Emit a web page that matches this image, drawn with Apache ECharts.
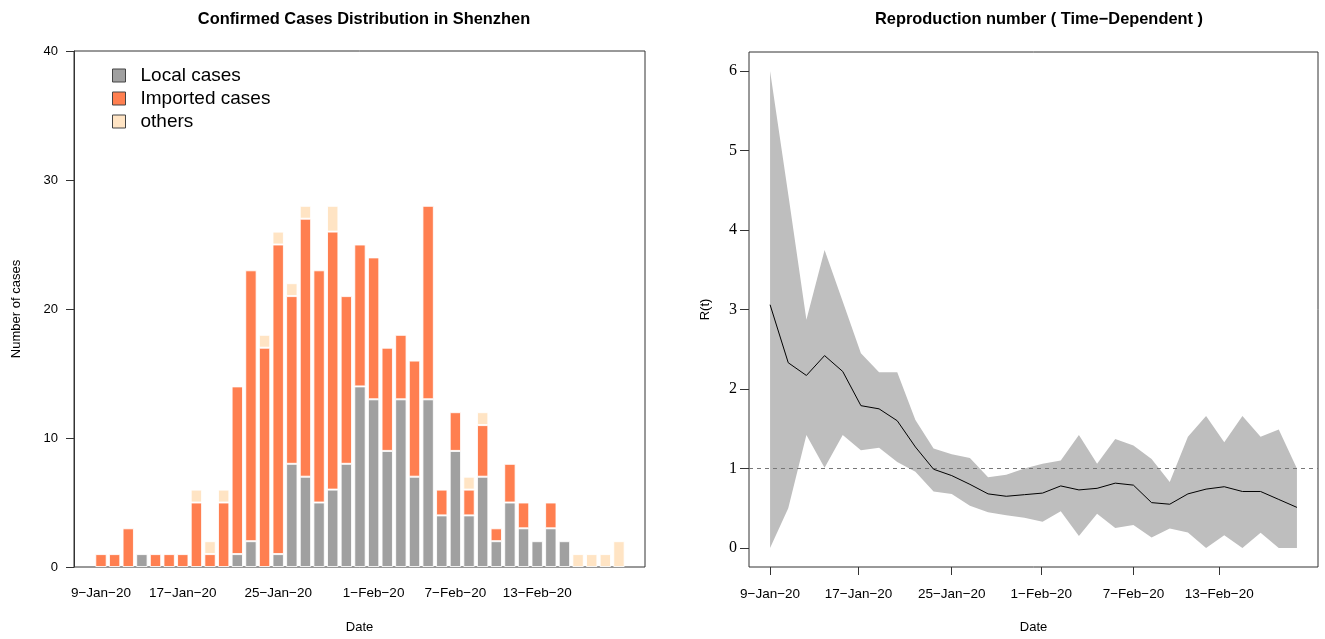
<!DOCTYPE html>
<html>
<head>
<meta charset="utf-8">
<script src="https://cdn.jsdelivr.net/npm/echarts@6/dist/echarts.min.js"></script>
<style>html,body{margin:0;padding:0;background:#fff;}#c{width:1325px;height:639px;}</style>
</head>
<body>
<div id="c"></div>
<script>
// ---- Left chart: confirmed cases (bar index = day position) ----
const localCases    = [0,0,0,1,0,0,0,0,0,0,1,2,0,1,8,7,5,6,8,14,13,9,13,7,13,4,9,4,7,2,5,3,2,3,2,0,0,0,0];
const importedCases = [1,1,3,0,1,1,1,5,1,5,13,21,17,24,13,20,18,20,13,11,11,8,5,9,15,2,3,2,4,1,3,2,0,2,0,0,0,0,0];
const otherCases    = [0,0,0,0,0,0,0,1,1,1,0,0,1,1,1,1,0,2,0,0,0,0,0,0,0,0,0,1,1,0,0,0,0,0,0,1,1,1,2];
const leftTickPos    = [0,6,13,20,26,32];
const leftTickLabels = ['9\u2212Jan\u221220','17\u2212Jan\u221220','25\u2212Jan\u221220','1\u2212Feb\u221220','7\u2212Feb\u221220','13\u2212Feb\u221220'];

// ---- Right chart: R(t) ----
const rtMean  = [3.06,2.33,2.17,2.42,2.22,1.79,1.75,1.60,1.27,0.99,0.91,0.80,0.68,0.65,0.67,0.69,0.78,0.73,0.75,0.815,0.79,0.57,0.55,0.68,0.74,0.77,0.71,0.71,0.61,0.51];
const rtLower = [0,0.50,1.42,1.01,1.42,1.23,1.26,1.08,0.96,0.71,0.68,0.53,0.45,0.41,0.38,0.33,0.46,0.15,0.43,0.25,0.29,0.13,0.245,0.195,0,0.16,0,0.19,0,0];
const rtUpper = [6.0,4.45,2.87,3.75,3.10,2.45,2.21,2.21,1.61,1.25,1.18,1.13,0.89,0.92,1.0,1.06,1.10,1.42,1.06,1.37,1.29,1.12,0.83,1.40,1.66,1.33,1.66,1.40,1.49,1.0];
const rightTickPos    = [0,4.87,10,14.93,20,24.72];
const rightTickLabels = leftTickLabels;
const rightYTicks = [0,1,2,3,4,5,6];

const SANS = 'Liberation Sans, Arial, sans-serif';
const SERIF = 'Liberation Serif, Times New Roman, serif';

// data rows are [value, position] so that stacking happens on the value (y) dimension
function rows(arr, keepZero){ return arr.map((v,i)=>[(v === 0 && !keepZero) ? null : v, i]); }
const ENC = {x:1, y:0};
function labelFor(pos, labels){
  return function(v){
    let best = 0, d = Infinity;
    pos.forEach((p,i)=>{ if (Math.abs(p-v) < d){ d = Math.abs(p-v); best = i; } });
    return d < 0.01 ? labels[best] : '';
  };
}

const chart = echarts.init(document.getElementById('c'), null, {renderer:'canvas'});
const barItem = (c)=>({color:c, borderColor:'rgba(255,255,255,0.85)', borderWidth:1});

chart.setOption({
  animation:false,
  backgroundColor:'#fff',
  title:[
    {text:'Confirmed Cases Distribution in Shenzhen', left:359, top:6, textAlign:'center',
     textStyle:{fontFamily:SANS, fontWeight:'bold', fontSize:16.4, color:'#000'}},
    {text:'Reproduction number ( Time\u2212Dependent )', left:1034, top:6, textAlign:'center',
     textStyle:{fontFamily:SANS, fontWeight:'bold', fontSize:16.4, color:'#000'}}
  ],
  legend:{
    data:['Local cases','Imported cases','others'],
    orient:'vertical', left:112, top:66, padding:0, itemWidth:13, itemHeight:13, itemGap:4,
    icon:'rect',
    itemStyle:{borderColor:'#444', borderWidth:1},
    textStyle:{fontFamily:SANS, fontSize:19, color:'#000', padding:[0,0,0,10]}
  },
  grid:[
    {left:74, right:1325-645, top:51, bottom:72, outerBoundsMode:'none', containLabel:false,
     show:true, borderColor:'#333', borderWidth:1, backgroundColor:'transparent'},
    {left:749, right:7, top:52, bottom:72, outerBoundsMode:'none', containLabel:false,
     show:true, borderColor:'#333', borderWidth:1, backgroundColor:'transparent'}
  ],
  xAxis:[
    {type:'value', gridIndex:0, min:-1.98, max:39.91,
     axisLine:{show:false, onZero:false}, axisTick:{show:false}, splitLine:{show:false},
     axisLabel:{customValues:leftTickPos, formatter:labelFor(leftTickPos,leftTickLabels),
       fontFamily:SANS, fontSize:13.5, color:'#000', margin:19},
     name:'Date', nameLocation:'middle', nameGap:54,
     nameTextStyle:{fontFamily:SANS, fontSize:13, color:'#000'}},
    {type:'value', gridIndex:1, min:-1.16, max:30.16,
     axisLine:{show:false, onZero:false}, splitLine:{show:false},
     axisTick:{show:true, customValues:rightTickPos, length:8, lineStyle:{color:'#333'}},
     axisLabel:{customValues:rightTickPos, formatter:labelFor(rightTickPos,rightTickLabels),
       fontFamily:SANS, fontSize:13.5, color:'#000', margin:20},
     name:'Date', nameLocation:'middle', nameGap:54,
     nameTextStyle:{fontFamily:SANS, fontSize:13, color:'#000'}}
  ],
  yAxis:[
    {type:'value', gridIndex:0, min:0, max:40, interval:10,
     axisLine:{show:true, onZero:false, lineStyle:{color:'#333'}}, splitLine:{show:false},
     axisTick:{show:true, length:8, lineStyle:{color:'#333'}},
     axisLabel:{fontFamily:SANS, fontSize:13, color:'#000', margin:16},
     name:'Number of cases', nameLocation:'middle', nameGap:51, nameRotate:90,
     nameTextStyle:{fontFamily:SANS, fontSize:13, color:'#000'}},
    {type:'value', gridIndex:1, min:-0.24, max:6.24,
     axisLine:{show:false, onZero:false}, splitLine:{show:false},
     axisTick:{show:true, customValues:rightYTicks, length:9, lineStyle:{color:'#333'}},
     axisLabel:{customValues:rightYTicks, fontFamily:SERIF, fontSize:16, color:'#000', margin:12},
     name:'R(t)', nameLocation:'middle', nameGap:37, nameRotate:90,
     nameTextStyle:{fontFamily:SANS, fontSize:13, color:'#000'}}
  ],
  series:[
    {name:'Local cases', type:'bar', xAxisIndex:0, yAxisIndex:0, stack:'cases', barWidth:11.4, encode:ENC,
     itemStyle:barItem('#A0A0A0'), data:rows(localCases)},
    {name:'Imported cases', type:'bar', xAxisIndex:0, yAxisIndex:0, stack:'cases', barWidth:11.4, encode:ENC,
     itemStyle:barItem('#FF7F50'), data:rows(importedCases)},
    {name:'others', type:'bar', xAxisIndex:0, yAxisIndex:0, stack:'cases', barWidth:11.4, encode:ENC,
     itemStyle:barItem('#FFE4C4'), data:rows(otherCases)},

    {name:'lowerBand', type:'line', xAxisIndex:1, yAxisIndex:1, stack:'band', symbol:'none', encode:ENC,
     lineStyle:{opacity:0}, data:rows(rtLower, true), silent:true},
    {name:'bandWidth', type:'line', xAxisIndex:1, yAxisIndex:1, stack:'band', symbol:'none', encode:ENC,
     lineStyle:{opacity:0}, areaStyle:{color:'#BEBEBE', opacity:1},
     data:rows(rtUpper.map((v,i)=>v - rtLower[i]), true), silent:true},
    {name:'R(t)', type:'line', xAxisIndex:1, yAxisIndex:1, symbol:'none', encode:ENC,
     lineStyle:{color:'#000', width:1}, data:rows(rtMean, true), z:5,
     markLine:{silent:true, symbol:'none', label:{show:false},
       lineStyle:{color:'#777', type:[4,4], width:1},
       data:[{yAxis:1}]}}
  ]
});
</script>
</body>
</html>
